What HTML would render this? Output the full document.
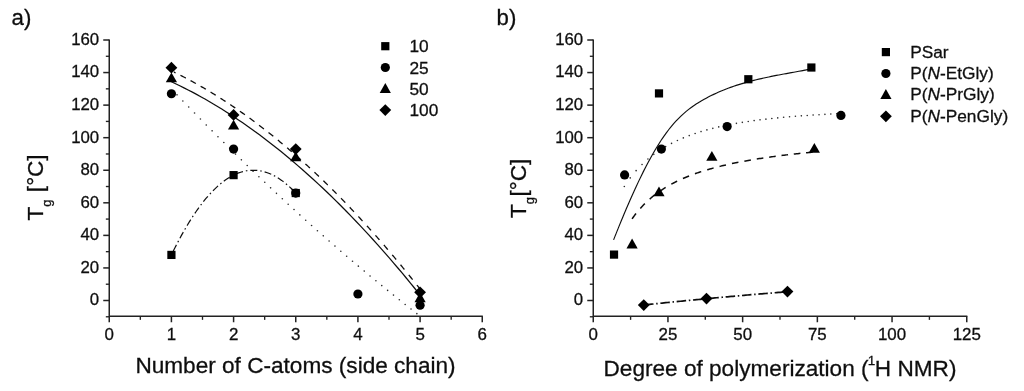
<!DOCTYPE html>
<html><head><meta charset="utf-8"><title>Figure</title>
<style>
html,body{margin:0;padding:0;background:#fff;}
svg{display:block}
text{font-family:"Liberation Sans",sans-serif;fill:#111;stroke:#111;stroke-width:0.3px}
.tk{font-size:16.8px}
.tkx{font-size:16.9px}
.lg{font-size:17.3px}
.at{font-size:22.6px}
.pl{font-size:22.2px}
</style></head><body>
<svg width="1024" height="391" viewBox="0 0 1024 391">
<defs><filter id="soft" x="0" y="0" width="1024" height="391" filterUnits="userSpaceOnUse"><feGaussianBlur stdDeviation="0.45"/></filter></defs>
<rect width="1024" height="391" fill="#fff"/>
<g filter="url(#soft)">
<path d="M109.25,39.40 V316.25 H482.85" fill="none" stroke="#222" stroke-width="1.5"/>
<path d="M109.25,300.50 h-6" stroke="#222" stroke-width="1.5"/>
<text x="99.15" y="305.40" text-anchor="end" class="tk">0</text>
<path d="M109.25,267.94 h-6" stroke="#222" stroke-width="1.5"/>
<text x="99.15" y="272.84" text-anchor="end" class="tk">20</text>
<path d="M109.25,235.38 h-6" stroke="#222" stroke-width="1.5"/>
<text x="99.15" y="240.28" text-anchor="end" class="tk">40</text>
<path d="M109.25,202.81 h-6" stroke="#222" stroke-width="1.5"/>
<text x="99.15" y="207.71" text-anchor="end" class="tk">60</text>
<path d="M109.25,170.25 h-6" stroke="#222" stroke-width="1.5"/>
<text x="99.15" y="175.15" text-anchor="end" class="tk">80</text>
<path d="M109.25,137.69 h-6" stroke="#222" stroke-width="1.5"/>
<text x="99.15" y="142.59" text-anchor="end" class="tk">100</text>
<path d="M109.25,105.12 h-6" stroke="#222" stroke-width="1.5"/>
<text x="99.15" y="110.03" text-anchor="end" class="tk">120</text>
<path d="M109.25,72.56 h-6" stroke="#222" stroke-width="1.5"/>
<text x="99.15" y="77.46" text-anchor="end" class="tk">140</text>
<path d="M109.25,40.00 h-6" stroke="#222" stroke-width="1.5"/>
<text x="99.15" y="44.90" text-anchor="end" class="tk">160</text>
<path d="M109.25,316.78 h-3.4" stroke="#222" stroke-width="1.35"/>
<path d="M109.25,284.22 h-3.4" stroke="#222" stroke-width="1.35"/>
<path d="M109.25,251.66 h-3.4" stroke="#222" stroke-width="1.35"/>
<path d="M109.25,219.09 h-3.4" stroke="#222" stroke-width="1.35"/>
<path d="M109.25,186.53 h-3.4" stroke="#222" stroke-width="1.35"/>
<path d="M109.25,153.97 h-3.4" stroke="#222" stroke-width="1.35"/>
<path d="M109.25,121.41 h-3.4" stroke="#222" stroke-width="1.35"/>
<path d="M109.25,88.84 h-3.4" stroke="#222" stroke-width="1.35"/>
<path d="M109.25,56.28 h-3.4" stroke="#222" stroke-width="1.35"/>
<path d="M109.25,316.25 v6" stroke="#222" stroke-width="1.5"/>
<text x="109.25" y="339.65" text-anchor="middle" class="tkx">0</text>
<path d="M171.42,316.25 v6" stroke="#222" stroke-width="1.5"/>
<text x="171.42" y="339.65" text-anchor="middle" class="tkx">1</text>
<path d="M233.58,316.25 v6" stroke="#222" stroke-width="1.5"/>
<text x="233.58" y="339.65" text-anchor="middle" class="tkx">2</text>
<path d="M295.75,316.25 v6" stroke="#222" stroke-width="1.5"/>
<text x="295.75" y="339.65" text-anchor="middle" class="tkx">3</text>
<path d="M357.92,316.25 v6" stroke="#222" stroke-width="1.5"/>
<text x="357.92" y="339.65" text-anchor="middle" class="tkx">4</text>
<path d="M420.08,316.25 v6" stroke="#222" stroke-width="1.5"/>
<text x="420.08" y="339.65" text-anchor="middle" class="tkx">5</text>
<path d="M482.25,316.25 v6" stroke="#222" stroke-width="1.5"/>
<text x="482.25" y="339.65" text-anchor="middle" class="tkx">6</text>
<path d="M140.33,316.25 v3.6" stroke="#222" stroke-width="1.35"/>
<path d="M202.50,316.25 v3.6" stroke="#222" stroke-width="1.35"/>
<path d="M264.67,316.25 v3.6" stroke="#222" stroke-width="1.35"/>
<path d="M326.83,316.25 v3.6" stroke="#222" stroke-width="1.35"/>
<path d="M389.00,316.25 v3.6" stroke="#222" stroke-width="1.35"/>
<path d="M451.17,316.25 v3.6" stroke="#222" stroke-width="1.35"/>
<path d="M171.42,81.76 L175.61,83.73 L179.80,85.76 L184.00,87.83 L188.19,89.97 L192.38,92.16 L196.58,94.41 L200.77,96.71 L204.97,99.07 L209.16,101.49 L213.35,103.96 L217.55,106.48 L221.74,109.07 L225.93,111.71 L230.13,114.40 L234.32,117.15 L238.51,119.96 L242.71,122.82 L246.90,125.74 L251.10,128.71 L255.29,131.74 L259.48,134.82 L263.68,137.96 L267.87,141.16 L272.06,144.41 L276.26,147.72 L280.45,151.09 L284.64,154.51 L288.84,157.99 L293.03,161.52 L297.23,165.11 L301.42,168.75 L305.61,172.45 L309.81,176.20 L314.00,180.02 L318.19,183.88 L322.39,187.81 L326.58,191.79 L330.77,195.82 L334.97,199.91 L339.16,204.06 L343.35,208.26 L347.55,212.52 L351.74,216.83 L355.94,221.20 L360.13,225.63 L364.32,230.11 L368.52,234.65 L372.71,239.24 L376.90,243.89 L381.10,248.60 L385.29,253.36 L389.48,258.18 L393.68,263.05 L397.87,267.98 L402.07,272.96 L406.26,278.00 L410.45,283.10 L414.65,288.25 L418.84,293.46" fill="none" stroke="#111" stroke-width="1.25"/>
<path d="M173.90,72.03 L174.26,72.20 L174.62,72.38 L174.98,72.56 L175.34,72.73 L175.70,72.91 M180.44,75.29 L181.52,75.84 L182.61,76.40 L183.69,76.96 L184.77,77.52 L185.85,78.09 M190.56,80.61 L191.63,81.19 L192.70,81.78 L193.77,82.36 L194.84,82.95 L195.91,83.55 M200.61,86.21 L201.66,86.82 L202.72,87.43 L203.77,88.04 L204.83,88.66 L205.88,89.28 M210.57,92.08 L211.61,92.72 L212.65,93.35 L213.69,93.99 L214.73,94.63 L215.77,95.28 M220.44,98.22 L221.47,98.88 L222.50,99.54 L223.52,100.20 L224.55,100.86 L225.57,101.53 M230.23,104.61 L231.25,105.29 L232.26,105.97 L233.27,106.66 L234.28,107.34 L235.29,108.03 M239.93,111.25 L240.93,111.95 L241.93,112.65 L242.93,113.35 L243.92,114.06 L244.91,114.77 M249.55,118.12 L250.53,118.84 L251.52,119.56 L252.50,120.29 L253.48,121.01 L254.46,121.74 M259.08,125.22 L260.05,125.96 L261.01,126.70 L261.98,127.44 L262.95,128.19 L263.91,128.94 M268.52,132.54 L269.47,133.30 L270.43,134.06 L271.38,134.82 L272.33,135.58 L273.28,136.35 M277.87,140.08 L278.81,140.85 L279.75,141.63 L280.69,142.41 L281.63,143.19 L282.57,143.97 M287.14,147.82 L288.07,148.61 L288.99,149.41 L289.92,150.20 L290.84,151.00 L291.77,151.79 M296.32,155.77 L297.24,156.57 L298.15,157.38 L299.06,158.19 L299.98,159.00 L300.89,159.81 M305.42,163.90 L306.33,164.72 L307.23,165.55 L308.13,166.37 L309.02,167.20 L309.92,168.02 M314.44,172.23 L315.33,173.06 L316.22,173.90 L317.11,174.74 L317.99,175.58 L318.88,176.42 M323.38,180.74 L324.26,181.59 L325.14,182.44 L326.01,183.29 L326.88,184.14 L327.76,184.99 M332.25,189.43 L333.11,190.29 L333.97,191.15 L334.84,192.01 L335.70,192.88 L336.56,193.74 M341.03,198.28 L341.88,199.16 L342.73,200.03 L343.58,200.91 L344.43,201.78 L345.28,202.66 M349.74,207.31 L350.58,208.20 L351.42,209.08 L352.26,209.97 L353.10,210.85 L353.93,211.74 M358.38,216.50 L359.21,217.40 L360.04,218.29 L360.86,219.19 L361.69,220.09 L362.51,220.99 M366.95,225.85 L367.76,226.76 L368.58,227.67 L369.40,228.57 L370.21,229.48 L371.02,230.39 M375.44,235.36 L376.25,236.28 L377.06,237.19 L377.86,238.11 L378.66,239.03 L379.47,239.94 M383.87,245.02 L384.67,245.94 L385.46,246.87 L386.26,247.79 L387.05,248.72 L387.84,249.65 M392.24,254.83 L393.02,255.76 L393.81,256.69 L394.59,257.63 L395.37,258.56 L396.16,259.50 M400.53,264.78 L401.31,265.72 L402.09,266.66 L402.86,267.61 L403.63,268.55 L404.40,269.50 M408.77,274.88 L409.54,275.83 L410.30,276.78 L411.07,277.73 L411.83,278.68 L412.59,279.63 M416.95,285.11 L417.58,285.91 L418.20,286.70 L418.83,287.50 L419.46,288.30 L420.08,289.09" fill="none" stroke="#111" stroke-width="1.3"/>
<g fill="#2a2a2a"><circle cx="177.01" cy="94.86" r="0.8"/><circle cx="182.86" cy="100.96" r="0.8"/><circle cx="188.71" cy="107.02" r="0.8"/><circle cx="194.56" cy="113.04" r="0.8"/><circle cx="200.41" cy="119.02" r="0.8"/><circle cx="206.26" cy="124.97" r="0.8"/><circle cx="212.11" cy="130.87" r="0.8"/><circle cx="217.96" cy="136.74" r="0.8"/><circle cx="223.81" cy="142.57" r="0.8"/><circle cx="229.66" cy="148.36" r="0.8"/><circle cx="235.51" cy="154.12" r="0.8"/><circle cx="241.36" cy="159.84" r="0.8"/><circle cx="247.21" cy="165.51" r="0.8"/><circle cx="253.06" cy="171.15" r="0.8"/><circle cx="258.91" cy="176.76" r="0.8"/><circle cx="264.76" cy="182.32" r="0.8"/><circle cx="270.61" cy="187.85" r="0.8"/><circle cx="276.46" cy="193.33" r="0.8"/><circle cx="282.31" cy="198.78" r="0.8"/><circle cx="288.16" cy="204.20" r="0.8"/><circle cx="294.01" cy="209.57" r="0.8"/><circle cx="299.86" cy="214.91" r="0.8"/><circle cx="305.71" cy="220.20" r="0.8"/><circle cx="311.56" cy="225.46" r="0.8"/><circle cx="317.41" cy="230.69" r="0.8"/><circle cx="323.26" cy="235.87" r="0.8"/><circle cx="329.11" cy="241.01" r="0.8"/><circle cx="334.96" cy="246.12" r="0.8"/><circle cx="340.81" cy="251.19" r="0.8"/><circle cx="346.66" cy="256.22" r="0.8"/><circle cx="352.51" cy="261.22" r="0.8"/><circle cx="358.36" cy="266.17" r="0.8"/><circle cx="364.21" cy="271.09" r="0.8"/><circle cx="370.06" cy="275.97" r="0.8"/><circle cx="375.91" cy="280.81" r="0.8"/><circle cx="381.76" cy="285.61" r="0.8"/><circle cx="387.61" cy="290.38" r="0.8"/><circle cx="393.46" cy="295.10" r="0.8"/><circle cx="399.31" cy="299.79" r="0.8"/><circle cx="405.16" cy="304.44" r="0.8"/><circle cx="411.01" cy="309.05" r="0.8"/><circle cx="416.86" cy="313.63" r="0.8"/></g>
<path d="M173.28,251.10 L175.33,247.02 L177.37,243.04 L179.41,239.17 L181.46,235.41 L183.50,231.75 L185.55,228.20 L187.59,224.76 L189.63,221.41 L191.68,218.18 L193.72,215.05 L195.77,212.03 L197.81,209.11 L199.86,206.29 L201.90,203.59 L203.94,200.99 L205.99,198.49 L208.03,196.10 L210.08,193.82 L212.12,191.64 L214.16,189.56 L216.21,187.60 L218.25,185.73 L220.30,183.98 L222.34,182.33 L224.38,180.78 L226.43,179.34 L228.47,178.01 L230.52,176.78 L232.56,175.66 L234.61,174.64 L236.65,173.73 L238.69,172.92 L240.74,172.22 L242.78,171.63 L244.83,171.14 L246.87,170.75 L248.91,170.48 L250.96,170.30 L253.00,170.24 L255.05,170.28 L257.09,170.42 L259.13,170.67 L261.18,171.03 L263.22,171.49 L265.27,172.06 L267.31,172.73 L269.36,173.51 L271.40,174.39 L273.44,175.38 L275.49,176.48 L277.53,177.68 L279.58,178.98 L281.62,180.39 L283.66,181.91 L285.71,183.54 L287.75,185.26 L289.80,187.10 L291.84,189.04 L293.88,191.09" fill="none" stroke="#111" stroke-width="1.2" stroke-dasharray="7 3 1.5 3"/>
<g fill="#000">
<rect x="167.32" y="250.81" width="8.20" height="8.20"/>
<rect x="229.48" y="171.03" width="8.20" height="8.20"/>
<rect x="291.65" y="188.94" width="8.20" height="8.20"/>
<circle cx="171.42" cy="93.73" r="4.60"/>
<circle cx="233.58" cy="149.08" r="4.60"/>
<circle cx="295.75" cy="193.04" r="4.60"/>
<circle cx="357.92" cy="293.99" r="4.60"/>
<circle cx="420.08" cy="305.22" r="4.60"/>
<polygon points="171.42,72.47 177.02,82.37 165.82,82.37"/>
<polygon points="233.58,119.69 239.18,129.59 227.98,129.59"/>
<polygon points="295.75,151.44 301.35,161.34 290.15,161.34"/>
<polygon points="420.08,292.27 425.68,302.17 414.48,302.17"/>
<polygon points="171.42,61.78 177.32,67.68 171.42,73.58 165.52,67.68"/>
<polygon points="233.58,108.99 239.48,114.89 233.58,120.79 227.68,114.89"/>
<polygon points="295.75,143.18 301.65,149.08 295.75,154.98 289.85,149.08"/>
<polygon points="420.08,286.46 425.98,292.36 420.08,298.26 414.18,292.36"/>
<rect x="381.20" y="42.10" width="8.20" height="8.20"/>
<text x="409.5" y="52.40" class="lg">10</text>
<circle cx="385.30" cy="67.50" r="4.60"/>
<text x="409.5" y="73.70" class="lg">25</text>
<polygon points="385.30,83.00 390.90,92.90 379.70,92.90"/>
<text x="409.5" y="95.00" class="lg">50</text>
<polygon points="385.30,104.20 391.20,110.10 385.30,116.00 379.40,110.10"/>
<text x="409.5" y="116.30" class="lg">100</text>
</g>
<path d="M593.25,39.40 V316.25 H967.35" fill="none" stroke="#222" stroke-width="1.5"/>
<path d="M593.25,300.50 h-6" stroke="#222" stroke-width="1.5"/>
<text x="583.15" y="305.40" text-anchor="end" class="tk">0</text>
<path d="M593.25,267.94 h-6" stroke="#222" stroke-width="1.5"/>
<text x="583.15" y="272.84" text-anchor="end" class="tk">20</text>
<path d="M593.25,235.38 h-6" stroke="#222" stroke-width="1.5"/>
<text x="583.15" y="240.28" text-anchor="end" class="tk">40</text>
<path d="M593.25,202.81 h-6" stroke="#222" stroke-width="1.5"/>
<text x="583.15" y="207.71" text-anchor="end" class="tk">60</text>
<path d="M593.25,170.25 h-6" stroke="#222" stroke-width="1.5"/>
<text x="583.15" y="175.15" text-anchor="end" class="tk">80</text>
<path d="M593.25,137.69 h-6" stroke="#222" stroke-width="1.5"/>
<text x="583.15" y="142.59" text-anchor="end" class="tk">100</text>
<path d="M593.25,105.12 h-6" stroke="#222" stroke-width="1.5"/>
<text x="583.15" y="110.03" text-anchor="end" class="tk">120</text>
<path d="M593.25,72.56 h-6" stroke="#222" stroke-width="1.5"/>
<text x="583.15" y="77.46" text-anchor="end" class="tk">140</text>
<path d="M593.25,40.00 h-6" stroke="#222" stroke-width="1.5"/>
<text x="583.15" y="44.90" text-anchor="end" class="tk">160</text>
<path d="M593.25,316.78 h-3.4" stroke="#222" stroke-width="1.35"/>
<path d="M593.25,284.22 h-3.4" stroke="#222" stroke-width="1.35"/>
<path d="M593.25,251.66 h-3.4" stroke="#222" stroke-width="1.35"/>
<path d="M593.25,219.09 h-3.4" stroke="#222" stroke-width="1.35"/>
<path d="M593.25,186.53 h-3.4" stroke="#222" stroke-width="1.35"/>
<path d="M593.25,153.97 h-3.4" stroke="#222" stroke-width="1.35"/>
<path d="M593.25,121.41 h-3.4" stroke="#222" stroke-width="1.35"/>
<path d="M593.25,88.84 h-3.4" stroke="#222" stroke-width="1.35"/>
<path d="M593.25,56.28 h-3.4" stroke="#222" stroke-width="1.35"/>
<path d="M593.25,316.25 v6" stroke="#222" stroke-width="1.5"/>
<text x="593.25" y="339.65" text-anchor="middle" class="tkx">0</text>
<path d="M667.95,316.25 v6" stroke="#222" stroke-width="1.5"/>
<text x="667.95" y="339.65" text-anchor="middle" class="tkx">25</text>
<path d="M742.65,316.25 v6" stroke="#222" stroke-width="1.5"/>
<text x="742.65" y="339.65" text-anchor="middle" class="tkx">50</text>
<path d="M817.35,316.25 v6" stroke="#222" stroke-width="1.5"/>
<text x="817.35" y="339.65" text-anchor="middle" class="tkx">75</text>
<path d="M892.05,316.25 v6" stroke="#222" stroke-width="1.5"/>
<text x="892.05" y="339.65" text-anchor="middle" class="tkx">100</text>
<path d="M966.75,316.25 v6" stroke="#222" stroke-width="1.5"/>
<text x="966.75" y="339.65" text-anchor="middle" class="tkx">125</text>
<path d="M630.60,316.25 v3.6" stroke="#222" stroke-width="1.35"/>
<path d="M705.30,316.25 v3.6" stroke="#222" stroke-width="1.35"/>
<path d="M780.00,316.25 v3.6" stroke="#222" stroke-width="1.35"/>
<path d="M854.70,316.25 v3.6" stroke="#222" stroke-width="1.35"/>
<path d="M929.40,316.25 v3.6" stroke="#222" stroke-width="1.35"/>
<path d="M613.57,239.86 L616.07,233.60 L618.58,227.40 L621.08,221.29 L623.58,215.27 L626.09,209.33 L628.59,203.51 L631.10,197.79 L633.60,192.19 L636.10,186.72 L638.61,181.38 L641.11,176.18 L643.61,171.13 L646.12,166.23 L648.62,161.49 L651.13,156.91 L653.63,152.50 L656.13,148.25 L658.64,144.18 L661.14,140.29 L663.65,136.59 L666.15,133.07 L668.65,129.74 L671.16,126.61 L673.66,123.67 L676.17,120.90 L678.67,118.30 L681.17,115.86 L683.68,113.57 L686.18,111.42 L688.68,109.40 L691.19,107.50 L693.69,105.71 L696.20,104.03 L698.70,102.44 L701.20,100.94 L703.71,99.51 L706.21,98.15 L708.72,96.84 L711.22,95.59 L713.72,94.38 L716.23,93.22 L718.73,92.10 L721.23,91.03 L723.74,90.00 L726.24,89.01 L728.75,88.06 L731.25,87.14 L733.75,86.26 L736.26,85.42 L738.76,84.61 L741.27,83.83 L743.77,83.08 L746.27,82.36 L748.78,81.67 L751.28,81.00 L753.79,80.36 L756.29,79.74 L758.79,79.14 L761.30,78.57 L763.80,78.01 L766.30,77.46 L768.81,76.94 L771.31,76.42 L773.82,75.92 L776.32,75.43 L778.82,74.96 L781.33,74.48 L783.83,74.02 L786.34,73.56 L788.84,73.11 L791.34,72.65 L793.85,72.20 L796.35,71.75 L798.85,71.30 L801.36,70.84 L803.86,70.38 L806.37,69.91 L808.87,69.43 L811.37,68.95" fill="none" stroke="#111" stroke-width="1.15"/>
<g fill="#2a2a2a"><circle cx="624.33" cy="186.51" r="0.8"/><circle cx="630.23" cy="177.92" r="0.8"/><circle cx="636.13" cy="170.66" r="0.8"/><circle cx="642.03" cy="164.44" r="0.8"/><circle cx="647.93" cy="159.07" r="0.8"/><circle cx="653.83" cy="154.37" r="0.8"/><circle cx="659.73" cy="150.25" r="0.8"/><circle cx="665.63" cy="146.61" r="0.8"/><circle cx="671.53" cy="143.38" r="0.8"/><circle cx="677.43" cy="140.49" r="0.8"/><circle cx="683.33" cy="137.91" r="0.8"/><circle cx="689.23" cy="135.59" r="0.8"/><circle cx="695.13" cy="133.50" r="0.8"/><circle cx="701.03" cy="131.61" r="0.8"/><circle cx="706.93" cy="129.89" r="0.8"/><circle cx="712.83" cy="128.34" r="0.8"/><circle cx="718.73" cy="126.92" r="0.8"/><circle cx="724.63" cy="125.63" r="0.8"/><circle cx="730.53" cy="124.44" r="0.8"/><circle cx="736.43" cy="123.36" r="0.8"/><circle cx="742.33" cy="122.37" r="0.8"/><circle cx="748.23" cy="121.46" r="0.8"/><circle cx="754.13" cy="120.62" r="0.8"/><circle cx="760.03" cy="119.85" r="0.8"/><circle cx="765.93" cy="119.14" r="0.8"/><circle cx="771.83" cy="118.49" r="0.8"/><circle cx="777.73" cy="117.88" r="0.8"/><circle cx="783.63" cy="117.32" r="0.8"/><circle cx="789.53" cy="116.80" r="0.8"/><circle cx="795.43" cy="116.32" r="0.8"/><circle cx="801.33" cy="115.87" r="0.8"/><circle cx="807.23" cy="115.45" r="0.8"/><circle cx="813.13" cy="115.07" r="0.8"/><circle cx="819.03" cy="114.71" r="0.8"/><circle cx="824.93" cy="114.37" r="0.8"/><circle cx="830.83" cy="114.06" r="0.8"/><circle cx="836.73" cy="113.77" r="0.8"/></g>
<path d="M632.09,218.84 L632.85,217.76 L633.62,216.69 L634.41,215.62 L635.20,214.57 L636.01,213.53 M640.31,208.39 L641.19,207.41 L642.09,206.44 L642.99,205.48 L643.91,204.53 L644.85,203.60 M649.69,199.08 L650.69,198.21 L651.70,197.36 L652.72,196.52 L653.75,195.70 L654.79,194.88 M660.08,191.03 L661.18,190.29 L662.28,189.56 L663.39,188.84 L664.50,188.14 L665.63,187.45 M671.25,184.21 L672.41,183.59 L673.58,182.98 L674.75,182.37 L675.93,181.78 L677.12,181.20 M682.94,178.52 L684.15,178.00 L685.37,177.48 L686.59,176.98 L687.81,176.48 L689.04,176.00 M694.97,173.77 L696.22,173.33 L697.47,172.90 L698.72,172.48 L699.97,172.06 L701.22,171.65 M707.21,169.80 L708.48,169.43 L709.75,169.06 L711.02,168.70 L712.29,168.35 L713.56,168.00 M719.56,166.44 L720.84,166.13 L722.12,165.81 L723.41,165.51 L724.69,165.21 L725.98,164.91 M731.96,163.59 L733.25,163.32 L734.55,163.05 L735.84,162.78 L737.13,162.52 L738.43,162.27 M744.38,161.14 L745.68,160.90 L746.98,160.67 L748.28,160.44 L749.58,160.21 L750.88,159.99 M756.79,159.01 L758.09,158.81 L759.39,158.60 L760.70,158.40 L762.00,158.20 L763.31,158.01 M769.17,157.16 L770.47,156.97 L771.78,156.79 L773.09,156.62 L774.40,156.44 L775.71,156.27 M781.51,155.52 L782.82,155.36 L784.13,155.20 L785.44,155.04 L786.75,154.88 L788.06,154.73 M793.80,154.07 L795.12,153.93 L796.43,153.78 L797.74,153.64 L799.05,153.50 L800.37,153.36 M806.05,152.78 L807.36,152.65 L808.68,152.52 L809.99,152.39 L811.30,152.27 L812.62,152.14" fill="none" stroke="#111" stroke-width="1.5"/>
<path d="M644.05,304.98 L645.86,304.79 L647.68,304.59 L649.49,304.40 L651.31,304.21 L653.12,304.02 L654.94,303.83 L656.75,303.64 L658.57,303.45 L660.39,303.27 L662.20,303.08 L664.02,302.89 L665.83,302.71 L667.65,302.52 L669.46,302.34 L671.28,302.15 L673.09,301.97 L674.91,301.79 L676.72,301.61 L678.54,301.43 L680.36,301.24 L682.17,301.06 L683.99,300.89 L685.80,300.71 L687.62,300.53 L689.43,300.35 L691.25,300.18 L693.06,300.00 L694.88,299.82 L696.70,299.65 L698.51,299.48 L700.33,299.30 L702.14,299.13 L703.96,298.96 L705.77,298.79 L707.59,298.61 L709.40,298.44 L711.22,298.28 L713.03,298.11 L714.85,297.94 L716.67,297.77 L718.48,297.60 L720.30,297.44 L722.11,297.27 L723.93,297.11 L725.74,296.94 L727.56,296.78 L729.37,296.62 L731.19,296.45 L733.01,296.29 L734.82,296.13 L736.64,295.97 L738.45,295.81 L740.27,295.65 L742.08,295.49 L743.90,295.34 L745.71,295.18 L747.53,295.02 L749.34,294.87 L751.16,294.71 L752.98,294.56 L754.79,294.40 L756.61,294.25 L758.42,294.10 L760.24,293.95 L762.05,293.80 L763.87,293.65 L765.68,293.50 L767.50,293.35 L769.32,293.20 L771.13,293.05 L772.95,292.90 L774.76,292.76 L776.58,292.61 L778.39,292.46 L780.21,292.32 L782.02,292.18 L783.84,292.03 L785.65,291.89 L787.47,291.75" fill="none" stroke="#111" stroke-width="1.7" stroke-dasharray="9.5 2.7 1.5 2.7"/>
<g fill="#000">
<rect x="609.92" y="250.49" width="8.20" height="8.20"/>
<rect x="654.89" y="89.30" width="8.20" height="8.20"/>
<rect x="744.23" y="75.14" width="8.20" height="8.20"/>
<rect x="807.27" y="63.42" width="8.20" height="8.20"/>
<circle cx="624.62" cy="174.97" r="4.60"/>
<circle cx="661.38" cy="149.08" r="4.60"/>
<circle cx="727.11" cy="126.62" r="4.60"/>
<circle cx="840.96" cy="115.38" r="4.60"/>
<polygon points="632.09,238.54 637.69,248.44 626.49,248.44"/>
<polygon points="658.99,186.44 664.59,196.34 653.39,196.34"/>
<polygon points="711.87,150.95 717.47,160.85 706.27,160.85"/>
<polygon points="814.36,142.97 819.96,152.87 808.76,152.87"/>
<polygon points="643.75,299.16 649.65,305.06 643.75,310.96 637.85,305.06"/>
<polygon points="706.50,292.65 712.40,298.55 706.50,304.45 700.60,298.55"/>
<polygon points="787.47,285.65 793.37,291.55 787.47,297.45 781.57,291.55"/>
<rect x="881.80" y="48.00" width="8.20" height="8.20"/>
<text x="910.2" y="57.50" class="lg">PSar</text>
<circle cx="885.90" cy="73.50" r="4.60"/>
<text x="910.2" y="78.90" class="lg">P(<tspan font-style="italic">N</tspan>-EtGly)</text>
<polygon points="885.90,89.10 891.50,99.00 880.30,99.00"/>
<text x="910.2" y="100.30" class="lg">P(<tspan font-style="italic">N</tspan>-PrGly)</text>
<polygon points="885.90,110.40 891.80,116.30 885.90,122.20 880.00,116.30"/>
<text x="910.2" y="121.70" class="lg">P(<tspan font-style="italic">N</tspan>-PenGly)</text>
</g>
<text x="11.6" y="24.7" class="pl">a)</text>
<text x="496.6" y="24.9" class="pl">b)</text>
<text x="295.5" y="372.5" text-anchor="middle" class="at">Number of C-atoms (side chain)</text>
<text x="780" y="375.5" text-anchor="middle" class="at">Degree of polymerization (<tspan dy="-10.8" dx="-0.8" font-size="13.5">1</tspan><tspan dy="10.8" dx="-0.4">H NMR)</tspan></text>
<text transform="translate(42.8,220.5) rotate(-90)" class="at" style="font-size:22.5px">T<tspan dy="8" font-size="13">g</tspan><tspan dy="-8" dx="7.4">[°C]</tspan></text>
<text transform="translate(525.9,217.9) rotate(-90)" class="at" style="font-size:22.5px">T<tspan dy="8" font-size="13">g</tspan><tspan dy="-8" dx="0.3">[°C]</tspan></text>
</g>
</svg>
</body></html>
